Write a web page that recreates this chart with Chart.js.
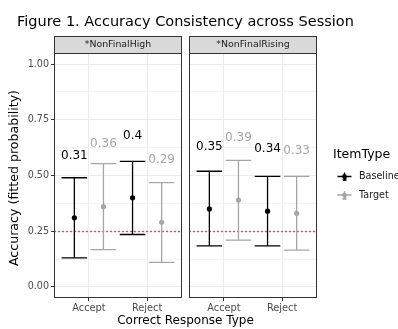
<!DOCTYPE html>
<html>
<head>
<meta charset="utf-8">
<script src="https://cdn.jsdelivr.net/npm/chart.js@4.4.1/dist/chart.umd.min.js"></script>
<style>
html, body { margin: 0; padding: 0; background: #fff; }
#wrap { position: relative; width: 398px; height: 329px; }
#wrap canvas { position: absolute; left: 0; top: 0; }
</style>
</head>
<body>
<div id="wrap">
  <canvas id="panelHigh" width="398" height="329"></canvas>
  <canvas id="panelRising" width="398" height="329"></canvas>
</div>
<script>
// data
const categories = ['Accept', 'Reject'];
const panelNames = ['*NonFinalHigh', '*NonFinalRising'];
const seriesNames = ['Baseline', 'Target'];

const highBaselineEst = [0.31, 0.40];
const highBaselineLow = [0.13, 0.235];
const highBaselineUp = [0.49, 0.563];
const highTargetEst = [0.36, 0.29];
const highTargetLow = [0.167, 0.11];
const highTargetUp = [0.553, 0.468];

const risingBaselineEst = [0.35, 0.34];
const risingBaselineLow = [0.184, 0.184];
const risingBaselineUp = [0.519, 0.496];
const risingTargetEst = [0.39, 0.33];
const risingTargetLow = [0.21, 0.165];
const risingTargetUp = [0.568, 0.496];

const chanceLevel = 0.25;
const yTicks = [0, 0.125, 0.25, 0.375, 0.5, 0.625, 0.75, 0.875, 1];

const FONT = "'DejaVu Sans', sans-serif";
const colors = { Baseline: '#000000', Target: '#a6a6a6' };
const dodge = 0.25;
const capHalf = 0.22;
const labelLift = 0.28;

function isMajor(v) { return Math.abs(v * 4 - Math.round(v * 4)) < 1e-9; }

function makeDataset(name, est, low, up, offset) {
    return {
        label: name,
        data: est.map((v, i) => ({ x: i + 1 + offset, y: v })),
        lower: low,
        upper: up,
        backgroundColor: colors[name],
        borderColor: colors[name],
        pointRadius: 2.6,
        pointBorderWidth: 0
    };
}

const panelPlugin = {
    id: 'panel',
    beforeDatasetsDraw(chart) {
        const { ctx, chartArea: a, scales: { x, y } } = chart;
        ctx.save();
        // chance line
        ctx.strokeStyle = '#f5463f';
        ctx.lineWidth = 1.4;
        ctx.setLineDash([2, 2]);
        const cy = Math.round(y.getPixelForValue(chanceLevel)) + 0.5;
        const lx = Math.round(a.left);
        ctx.beginPath(); ctx.moveTo(lx, cy); ctx.lineTo(Math.round(a.right), cy); ctx.stroke();
        ctx.setLineDash([]);
        // error bars
        chart.data.datasets.forEach(ds => {
            ctx.strokeStyle = ds.borderColor;
            ctx.lineWidth = 1.3;
            ds.data.forEach((p, i) => {
                const px = x.getPixelForValue(p.x);
                const half = x.getPixelForValue(p.x + capHalf) - px;
                const yl = y.getPixelForValue(ds.lower[i]);
                const yu = y.getPixelForValue(ds.upper[i]);
                ctx.beginPath();
                ctx.moveTo(px, yl); ctx.lineTo(px, yu);
                ctx.moveTo(px - half, yl); ctx.lineTo(px + half, yl);
                ctx.moveTo(px - half, yu); ctx.lineTo(px + half, yu);
                ctx.stroke();
            });
        });
        ctx.restore();
    },
    afterDatasetsDraw(chart, args, opts) {
        const { ctx, chartArea: a, scales: { x, y } } = chart;
        ctx.save();
        // value labels
        ctx.font = '12px ' + FONT;
        ctx.textAlign = 'center';
        ctx.textBaseline = 'middle';
        chart.data.datasets.forEach(ds => {
            ctx.fillStyle = ds.borderColor;
            ds.data.forEach(p => {
                const txt = String(Math.round(p.y * 100) / 100);
                ctx.fillText(txt, x.getPixelForValue(p.x), y.getPixelForValue(p.y + labelLift));
            });
        });
        // panel border
        ctx.strokeStyle = '#333333';
        ctx.lineWidth = 1;
        ctx.strokeRect(a.left + 0.5, a.top + 0.5, a.right - a.left - 1, a.bottom - a.top - 1);
        // strip
        ctx.fillStyle = '#d9d9d9';
        ctx.fillRect(a.left, 36, a.right - a.left, a.top - 36);
        ctx.strokeRect(a.left + 0.5, 36.5, a.right - a.left - 1, a.top - 36);
        ctx.fillStyle = '#1a1a1a';
        ctx.font = '9.4px ' + FONT;
        ctx.fillText(opts.strip, (a.left + a.right) / 2, (36 + a.top) / 2 + 0.5);
        ctx.restore();
    },
    afterDraw(chart, args, opts) {
        const ctx = chart.ctx;
        ctx.save();
        ctx.fillStyle = '#000';
        if (opts.decor === 'left') {
            ctx.font = '14.5px ' + FONT;
            ctx.textAlign = 'left';
            ctx.textBaseline = 'alphabetic';
            ctx.fillText('Figure 1. Accuracy Consistency across Session', 17, 25.5);
            ctx.font = '12px ' + FONT;
            ctx.textAlign = 'center';
            ctx.textBaseline = 'middle';
            ctx.fillText('Correct Response Type', 185.5, 321);
            ctx.font = '12.6px ' + FONT;
            ctx.translate(15, 178);
            ctx.rotate(-Math.PI / 2);
            ctx.fillText('Accuracy (fitted probability)', 0, 0);
        } else if (opts.decor === 'legend') {
            ctx.font = '12.5px ' + FONT;
            ctx.textAlign = 'left';
            ctx.textBaseline = 'middle';
            ctx.fillText('ItemType', 333, 155);
            seriesNames.forEach((name, i) => {
                const ky = 176.5 + i * 18.5;
                const kx = 344.5;
                ctx.strokeStyle = colors[name];
                ctx.fillStyle = colors[name];
                ctx.lineWidth = 1.3;
                ctx.beginPath();
                ctx.moveTo(kx - 7, ky); ctx.lineTo(kx + 7, ky);
                ctx.moveTo(kx, ky - 4); ctx.lineTo(kx, ky + 4);
                ctx.stroke();
                ctx.beginPath(); ctx.arc(kx, ky, 2.4, 0, Math.PI * 2); ctx.fill();
                ctx.font = 'bold 7px ' + FONT;
                ctx.textAlign = 'center';
                ctx.fillText('a', kx, ky + 3);
                ctx.fillStyle = '#1a1a1a';
                ctx.font = '9.6px ' + FONT;
                ctx.textAlign = 'left';
                ctx.fillText(name, 359, ky);
            });
        }
        ctx.restore();
    }
};

function panelConfig(strip, datasets, first, decor) {
    return {
        type: 'scatter',
        data: { datasets: datasets },
        plugins: [panelPlugin],
        options: {
            responsive: false,
            animation: false,
            devicePixelRatio: 1,
            layout: { padding: first ? { left: 0, right: 216, top: 53, bottom: 0 } : { left: 189, right: 81, top: 53, bottom: 0 } },
            plugins: {
                legend: { display: false },
                tooltip: { enabled: false },
                panel: { strip: strip, decor: decor }
            },
            scales: {
                x: {
                    type: 'linear', min: 0.4, max: 2.6,
                    afterBuildTicks: s => { s.ticks = categories.map((c, i) => ({ value: i + 1 })); },
                    afterFit: s => { s.height = 31; },
                    ticks: {
                        callback: v => categories[v - 1],
                        font: { family: FONT, size: 9.8 }, color: '#4d4d4d', padding: 2, maxRotation: 0
                    },
                    grid: { color: '#ebebeb', lineWidth: 1, tickLength: 3, tickColor: '#333333' },
                    border: { display: false }
                },
                y: {
                    min: -0.05, max: 1.05,
                    afterBuildTicks: s => { s.ticks = yTicks.map(v => ({ value: v })); },
                    afterFit: s => { s.width = first ? 54 : 0; },
                    ticks: {
                        display: first,
                        callback: v => isMajor(v) ? v.toFixed(2) : '',
                        font: { family: FONT, size: 9.6 }, color: '#4d4d4d', padding: 2
                    },
                    grid: {
                        color: c => isMajor(c.tick.value) ? '#ebebeb' : '#f4f4f4',
                        tickColor: c => isMajor(c.tick.value) ? '#333333' : 'rgba(0,0,0,0)',
                        tickLength: 3,
                        drawTicks: first
                    },
                    border: { display: false }
                }
            }
        }
    };
}

const highChart = new Chart(document.getElementById('panelHigh'), panelConfig(panelNames[0], [
    makeDataset('Baseline', highBaselineEst, highBaselineLow, highBaselineUp, -dodge),
    makeDataset('Target', highTargetEst, highTargetLow, highTargetUp, dodge)
], true, 'left'));

const risingChart = new Chart(document.getElementById('panelRising'), panelConfig(panelNames[1], [
    makeDataset('Baseline', risingBaselineEst, risingBaselineLow, risingBaselineUp, -dodge),
    makeDataset('Target', risingTargetEst, risingTargetLow, risingTargetUp, dodge)
], false, 'legend'));
</script>
</body>
</html>
